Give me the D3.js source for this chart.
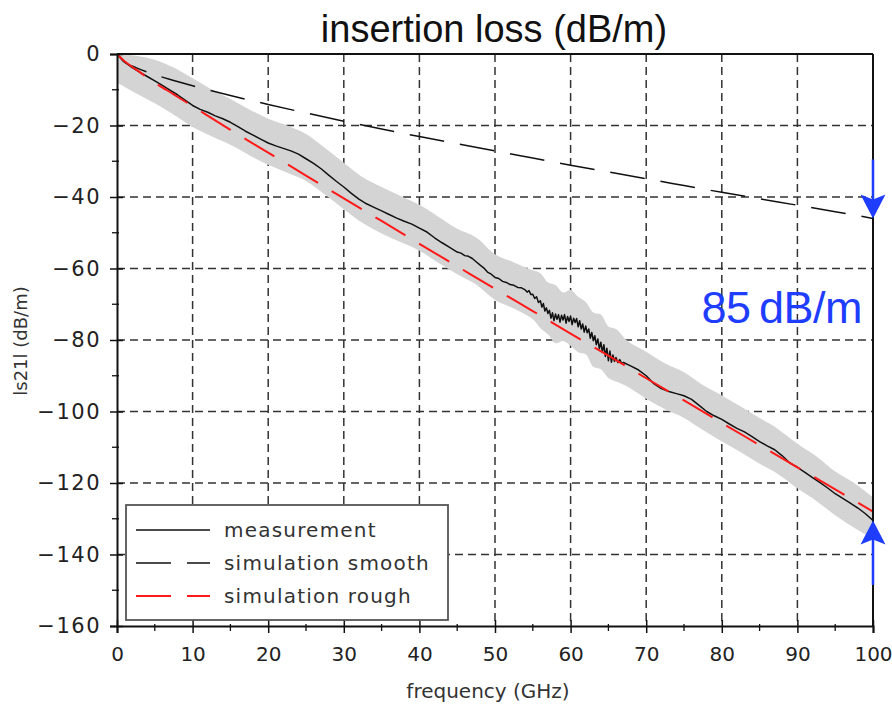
<!DOCTYPE html>
<html>
<head>
<meta charset="utf-8">
<script src="https://cdn.jsdelivr.net/npm/d3@7/dist/d3.min.js"></script>
<style>
  html, body { margin: 0; padding: 0; background: #fff; }
  svg { display: block; }
</style>
</head>
<body>
<svg id="chart" width="892" height="708"></svg>
<script>
// Axis ticks
const xTicks = [0, 10, 20, 30, 40, 50, 60, 70, 80, 90, 100];
const yTicks = [0, -20, -40, -60, -80, -100, -120, -140, -160];
const xMinor = [5, 15, 25, 35, 45, 55, 65, 75, 85, 95];
const yMinor = [-10, -30, -50, -70, -90, -110, -130, -150];

// Measured |S21| (frequency GHz, loss dB/m)
const measurement = [
  [0, 0], [1, -2.2], [2, -3.8], [3, -5.1], [4, -6.3], [5, -7.5], [6, -8.8], [7, -10.1],
  [8, -11.4], [9, -12.9], [10, -14.4], [11, -15.5], [12, -16.3], [13, -17.3], [14, -18.1],
  [15, -19.1], [16, -20.3], [17, -21.6], [18, -22.7], [19, -23.8], [20, -24.9], [21, -25.7],
  [22, -26.4], [23, -27.1], [24, -28.0], [25, -29.3], [26, -30.6], [27, -32.1], [28, -33.9],
  [29, -35.6], [30, -37.2], [31, -39.0], [32, -40.6], [33, -41.9], [34, -42.9], [35, -43.9],
  [36, -44.9], [37, -45.9], [38, -46.8], [39, -47.6], [40, -48.7], [41, -49.8], [42, -51.4],
  [43, -52.8], [44, -54.1], [45, -55.4], [45.5, -55.7], [46, -56.4], [46.5, -56.6], [47, -57.2],
  [47.5, -58.1], [48, -59.0], [48.5, -59.8], [49, -61.0], [49.5, -61.6],
  [50, -62.5], [50.5, -62.8], [51, -63.6], [51.5, -63.9], [52, -64.5], [52.5, -64.7], [53, -65.3],
  [53.5, -65.4], [54, -66.0],
  [54.25, -66.6], [54.5, -66.2], [54.75, -67.3], [55, -67.2], [55.25, -68.4], [55.5, -67.9],
  [55.75, -69.5], [56, -69.0], [56.2, -70.8], [56.4, -69.8], [56.6, -71.9], [56.8, -71.0],
  [57, -72.6], [57.2, -71.7], [57.4, -73.9], [57.6, -72.4], [57.8, -74.6], [58, -72.7],
  [58.2, -74.2], [58.4, -72.9], [58.6, -75.0], [58.8, -73.1], [59, -74.4], [59.2, -72.9],
  [59.4, -75.3], [59.6, -73.4], [59.8, -74.8], [60, -73.3], [60.2, -75.7], [60.4, -73.9],
  [60.6, -75.1], [60.8, -74.0], [61, -76.3], [61.2, -74.6], [61.4, -76.9], [61.6, -75.5],
  [61.8, -77.8], [62, -76.1], [62.2, -78.0], [62.4, -76.9], [62.6, -79.5], [62.8, -77.9],
  [63, -80.2], [63.2, -78.8], [63.4, -81.3], [63.6, -79.7], [63.8, -82.4], [64, -80.6],
  [64.2, -83.4], [64.4, -81.3], [64.6, -84.6], [64.8, -82.3], [65, -85.8], [65.2, -83.1],
  [65.4, -86.2], [65.6, -84.2], [65.8, -86.0], [66, -84.9], [66.25, -86.3], [66.5, -85.5],
  [66.75, -86.5], [67, -86.3],
  [68, -87.3], [69, -88.4], [70, -90.0], [71, -92.2], [72, -93.6], [73, -94.4], [74, -95.0],
  [75, -95.6], [76, -96.6], [77, -98.3], [78, -100.0], [79, -101.2], [80, -102.2], [81, -103.5],
  [82, -104.7], [83, -105.7], [84, -107.0], [85, -108.4], [86, -109.6], [87, -110.7],
  [88, -112.4], [89, -114.4], [90, -115.6], [91, -117.0], [92, -118.5], [93, -119.9],
  [94, -121.4], [95, -123.0], [96, -124.3], [97, -125.6], [98, -127.0], [99, -128.6], [100, -130.5]
];

// Spread of repeated measurements (upper / lower envelope)
const bandFreq  = [0, 2.5, 5, 7.5, 10, 12.5, 15, 17.5, 20, 22.5, 25, 27.5, 30, 32.5, 35, 37.5, 40,
                   42.5, 45, 47.5, 50, 52.5, 55, 56, 57, 58, 59, 60, 61, 62, 63, 64, 65, 66, 67.5,
                   70, 72.5, 75, 77.5, 80, 82.5, 85, 87.5, 90, 92.5, 95, 97.5, 100];
const bandUpper = [0, -0.5, -1.6, -3.8, -6.8, -9.9, -12.6, -15.5, -18.1, -20.0, -22.4, -26.3, -30.4,
                   -34.5, -37.2, -39.7, -42.2, -45.5, -48.9, -51.3, -56.0, -58.3, -60.5, -61.3,
                   -63.9, -64.6, -66.7, -66.0, -67.9, -69.4, -72.3, -72.9, -76.2, -76.9, -80.2,
                   -83.3, -86.6, -89.0, -92.6, -95.5, -98.6, -101.8, -105.0,
                   -109.0, -112.5, -116.8, -120.0, -124.0];
const bandLower = [-8, -11, -13.8, -17, -20.4, -23.0, -25.4, -28.3, -31.0, -33.2, -35.5, -39.3, -43.4,
                   -47.3, -50.2, -52.6, -55.0, -58.4, -61.6, -64.5, -68.8, -71.2, -74.2, -76.7,
                   -78.4, -80.9, -80.3, -81.6, -83.4, -84.0, -87.5, -88.2, -90.6, -91.6, -93.0,
                   -96.4, -99.4, -101.8, -105.2, -108.4, -111.4, -114.6, -117.6,
                   -121.5, -125.0, -129.0, -132.5, -135.6];

// Simulations
const simFreq     = [0, 1, 2.5, 5, 7.5, 10, 15, 20, 25, 30, 35, 40, 45, 50, 55, 60, 65, 70, 75, 80, 85, 90, 95, 100];
const smoothLoss  = [0, -2.3, -3.8, -5.8, -7.4, -8.9, -11.6, -14.1, -16.5, -18.8, -21.0, -23.1, -25.1,
                     -27.1, -29.1, -31.1, -33.0, -34.9, -36.8, -38.7, -40.5, -42.3, -44.1, -46.0];
const roughLoss   = [0, -2.0, -4.3, -8.0, -11.3, -14.6, -21.2, -27.6, -34.0, -40.4, -46.7, -53.1, -59.4,
                     -65.7, -71.9, -78.2, -84.4, -90.7, -96.9, -103.2, -109.4, -115.6, -121.8, -128.0];

const legendLabels = ["measurement", "simulation smooth", "simulation rough"];
const annotationLabel = "85\u2009dB/m";

const W = 892, H = 708;
const margin = { left: 117, right: 19, top: 54, bottom: 82 };
const svg = d3.select("#chart");

const x = d3.scaleLinear().domain([0, 100]).range([margin.left, W - margin.right]);
const y = d3.scaleLinear().domain([-160, 0]).range([H - margin.bottom, margin.top]);

const font = "'DejaVu Sans', sans-serif";

// Clip for plot contents
svg.append("defs").append("clipPath").attr("id", "plot-clip")
  .append("rect").attr("x", x(0)).attr("y", y(0)).attr("width", x(100) - x(0)).attr("height", y(-160) - y(0));

// Grid
const grid = svg.append("g").attr("stroke", "#333").attr("stroke-width", 1.5).attr("stroke-dasharray", "8,5");
grid.selectAll("line.v").data(xTicks.slice(1, -1)).join("line")
  .attr("x1", d => x(d)).attr("x2", d => x(d)).attr("y1", y(0)).attr("y2", y(-160));
grid.selectAll("line.h").data(yTicks.slice(1, -1)).join("line")
  .attr("x1", x(0)).attr("x2", x(100)).attr("y1", d => y(d)).attr("y2", d => y(d));

const plot = svg.append("g").attr("clip-path", "url(#plot-clip)");

// Measurement spread band
const bandData = bandFreq.map((f, i) => ({ f, hi: bandUpper[i], lo: bandLower[i] }));
plot.append("path").datum(bandData)
  .attr("fill", "#d4d4d4")
  .attr("d", d3.area().x(d => x(d.f)).y0(d => y(d.lo)).y1(d => y(d.hi)).curve(d3.curveCatmullRom));

const simLine = d3.line().x(d => x(d[0])).y(d => y(d[1])).curve(d3.curveMonotoneX);

// Simulation smooth (black long dash)
plot.append("path").datum(simFreq.map((f, i) => [f, smoothLoss[i]]))
  .attr("fill", "none").attr("stroke", "#111").attr("stroke-width", 1.5)
  .attr("stroke-dasharray", "35,16").attr("d", simLine);

// Measurement (solid black)
plot.append("path").datum(measurement)
  .attr("fill", "none").attr("stroke", "#111").attr("stroke-width", 1.5)
  .attr("stroke-linejoin", "round")
  .attr("d", d3.line().x(d => x(d[0])).y(d => y(d[1])));

// Simulation rough (red long dash)
plot.append("path").datum(simFreq.map((f, i) => [f, roughLoss[i]]))
  .attr("fill", "none").attr("stroke", "#ff1a1a").attr("stroke-width", 2)
  .attr("stroke-dasharray", "35,16").attr("d", simLine);

// Frame
const frame = svg.append("g").attr("stroke", "#111").attr("fill", "none");
frame.append("line").attr("x1", x(0)).attr("x2", x(100)).attr("y1", y(0)).attr("y2", y(0)).attr("stroke-width", 2);
frame.append("line").attr("x1", x(100)).attr("x2", x(100)).attr("y1", y(0)).attr("y2", y(-160)).attr("stroke-width", 2);

// Axes
const xAxis = svg.append("g").attr("transform", `translate(0,${y(-160)})`)
  .call(d3.axisBottom(x).tickValues(xTicks).tickSize(7).tickPadding(14).tickFormat(d3.format("d")));
const yAxis = svg.append("g").attr("transform", `translate(${x(0)},0)`)
  .call(d3.axisLeft(y).tickValues(yTicks).tickSize(7).tickPadding(9).tickFormat(d => d3.format("d")(d).replace("-", "\u2212")));
[xAxis, yAxis].forEach(a => {
  a.select(".domain").attr("stroke", "#111").attr("stroke-width", 2);
  a.selectAll(".tick line").attr("stroke", "#111").attr("stroke-width", 1.5);
  a.selectAll(".tick text").attr("fill", "#222").style("font-family", font).style("font-size", "20px");
});
yAxis.selectAll(".tick text").style("font-size", "21px").style("letter-spacing", "1.5px");
// ticks crossing into the plot
xAxis.selectAll(".tick").append("line").attr("y1", 0).attr("y2", -6).attr("stroke", "#111").attr("stroke-width", 1.5);
yAxis.selectAll(".tick").append("line").attr("x1", 0).attr("x2", 6).attr("stroke", "#111").attr("stroke-width", 1.5);
svg.append("g").selectAll("line").data(xMinor).join("line")
  .attr("x1", d => x(d)).attr("x2", d => x(d)).attr("y1", y(-160) - 2).attr("y2", y(-160) + 5)
  .attr("stroke", "#111").attr("stroke-width", 1.3);
svg.append("g").selectAll("line").data(yMinor).join("line")
  .attr("x1", x(0) - 5).attr("x2", x(0) + 2).attr("y1", d => y(d)).attr("y2", d => y(d))
  .attr("stroke", "#111").attr("stroke-width", 1.3);

// Axis titles
svg.append("text").attr("x", (x(0) + x(100)) / 2 - 7).attr("y", 698).attr("text-anchor", "middle")
  .style("font-family", font).style("font-size", "20px").attr("fill", "#333").text("frequency (GHz)");
svg.append("text").attr("transform", `translate(27,${(y(0) + y(-160)) / 2 + 1}) rotate(-90)`)
  .attr("text-anchor", "middle").style("font-family", font).style("font-size", "18px").attr("fill", "#333")
  .text("ls21l (dB/m)");

// Title
svg.append("text").attr("x", (x(0) + x(100)) / 2 - 1).attr("y", 42).attr("text-anchor", "middle")
  .style("font-family", "'Liberation Sans', Arial, sans-serif").style("font-size", "38px").attr("fill", "#111")
  .text("insertion loss (dB/m)");

// Legend
const lg = svg.append("g");
lg.append("rect").attr("x", 126).attr("y", 505).attr("width", 322).attr("height", 115)
  .attr("fill", "#fff").attr("stroke", "#555").attr("stroke-width", 1.8);
const legendStyles = [
  { stroke: "#111", dash: null, width: 1.5 },
  { stroke: "#111", dash: "35,16", width: 1.5 },
  { stroke: "#ff1a1a", dash: "35,16", width: 2 }
];
legendLabels.forEach((lab, i) => {
  const cy = 530 + i * 33;
  const s = legendStyles[i];
  lg.append("line").attr("x1", 136).attr("x2", 210).attr("y1", cy).attr("y2", cy)
    .attr("stroke", s.stroke).attr("stroke-width", s.width).attr("stroke-dasharray", s.dash);
  lg.append("text").attr("x", 224).attr("y", cy + 7).style("font-family", font).style("font-size", "20px")
    .style("letter-spacing", "1.2px").attr("fill", "#333").text(lab);
});

// Difference annotation arrows at 100 GHz
const blue = "#1f3dff";
function arrow(tipVal, tailVal) {
  const tx = x(100), ty = y(tipVal), tl = y(tailVal);
  const dir = tl < ty ? 1 : -1; // 1: arrow points down
  svg.append("line").attr("x1", tx).attr("x2", tx).attr("y1", tl).attr("y2", ty - dir * 16)
    .attr("stroke", blue).attr("stroke-width", 2.5);
  const h = 24, w = 12.5, notch = 5;
  svg.append("path").attr("fill", blue)
    .attr("d", `M${tx},${ty} L${tx - w},${ty - dir * h} L${tx},${ty - dir * (h - notch)} L${tx + w},${ty - dir * h} Z`);
}
arrow(smoothLoss[smoothLoss.length - 1], -29.5);
arrow(measurement[measurement.length - 1][1], -148.5);

svg.append("text").attr("x", 862).attr("y", 323).attr("text-anchor", "end")
  .style("font-family", "'Liberation Sans', Arial, sans-serif").style("font-size", "45px")
  .style("letter-spacing", "-0.5px").attr("fill", blue).text(annotationLabel);
</script>
</body>
</html>
